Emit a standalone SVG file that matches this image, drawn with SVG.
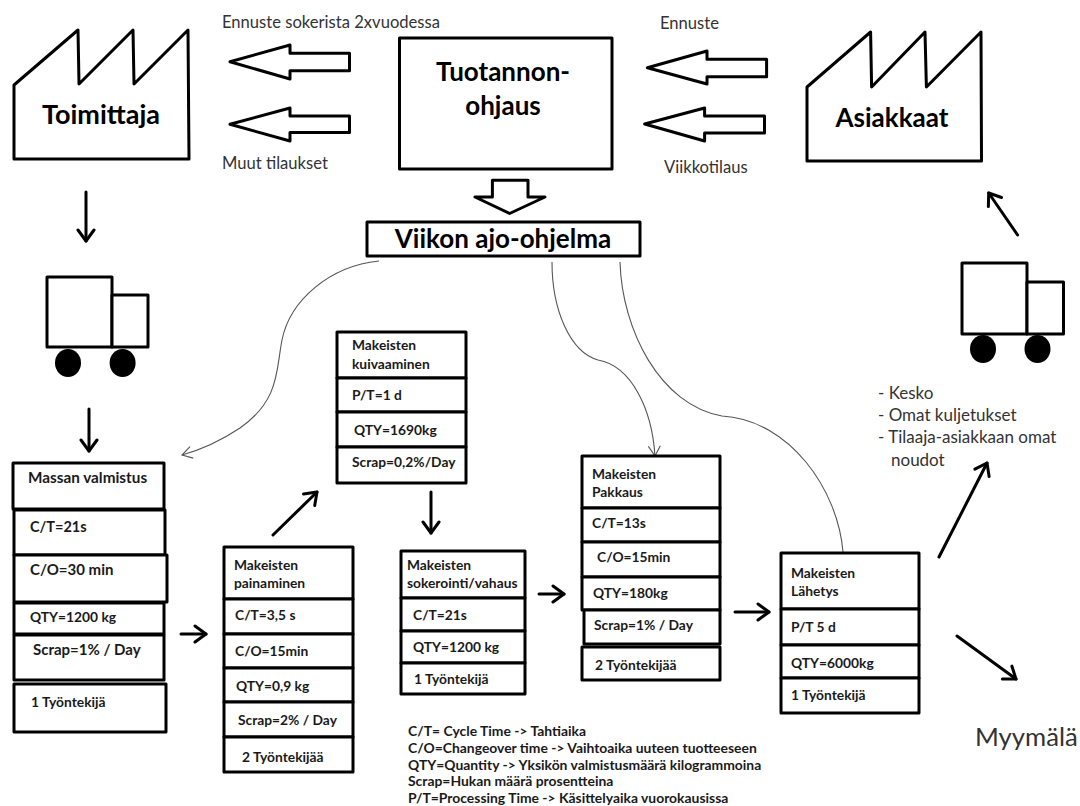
<svg xmlns="http://www.w3.org/2000/svg" width="1080" height="806" viewBox="0 0 1080 806">
<style>
text{font-family:Lato,"Liberation Sans",sans-serif;fill:#111}
.s{fill:#fff;stroke:#000;stroke-width:3;stroke-linejoin:round}
.t{font-size:13.8px;font-weight:700;fill:#1a1a1a}
.g{font-size:13.9px;font-weight:700;fill:#1a1a1a}
.b{font-size:26px;font-weight:700;fill:#000}
.l{font-size:16.6px;fill:#333}
.k{font-size:17px;fill:#333}
.m{font-size:25.7px;fill:#333}
.a{fill:none;stroke:#000;stroke-width:3;stroke-linecap:round;stroke-linejoin:round;marker-end:url(#h)}
.c{fill:none;stroke:#555;stroke-width:1.1}
</style>
<defs>
<marker id="h" markerUnits="userSpaceOnUse" markerWidth="24" markerHeight="24" refX="13" refY="10" orient="auto"><path d="M2,2 L13,10 L2,18" fill="none" stroke="#000" stroke-width="3" stroke-linecap="round" stroke-linejoin="round"/></marker>
<marker id="o" markerUnits="userSpaceOnUse" markerWidth="20" markerHeight="20" refX="12" refY="8" orient="auto"><path d="M2,2 L12,8 L2,14" fill="none" stroke="#555" stroke-width="1.1"/></marker>
</defs>
<g id="connectors">
<path class="s" d="M230,61.7 290,45 290,53.3 349.5,53.3 349.5,70.7 290,70.7 290,79Z"/>
<path class="s" d="M230,124.3 290,108 290,116 349.5,116 349.5,132.5 290,132.5 290,141Z"/>
<path class="s" d="M647.4,67.7 707,51 707,59.3 766.6,59.3 766.6,76.7 707,76.7 707,84Z"/>
<path class="s" d="M644.7,124 704.6,108 704.6,116 764.5,116 764.5,133 704.6,133 704.6,141Z"/>
<path class="s" d="M492.4,180.300 528,180.300 528,197 545,197 509.6,213.5 475,197 492.4,197Z"/>
<path class="a" d="M86,192V241"/>
<path class="a" d="M89,409V451"/>
<path class="a" d="M273,535 317,492"/>
<path class="a" d="M181,634H206"/>
<path class="a" d="M431,492V533"/>
<path class="a" d="M539,594H564"/>
<path class="a" d="M735,612H769"/>
<path class="a" d="M939,557 987,463"/>
<path class="a" d="M957,636 1016,679"/>
<path class="a" d="M1017.6,235 988.7,193"/>
<path class="c" marker-end="url(#o)" d="M379,261C330,266 290,300 282,340C276,370 280,400 240,428C222,440 200,450 182,455"/>
<path class="c" marker-end="url(#o)" d="M552,262C552,310 570,352 598,360C632,366 652,410 655,456"/>
<path class="c" d="M620,262C622,330 660,405 722,416C790,420 838,490 843,552"/>
</g>
<g id="toimittaja"><path class="s" d="M14,85 78,30 79,84 133,30 134,84 188,30 189,159 14,159Z"/><text class="b" style="font-size:27px" x="101" y="124" text-anchor="middle">Toimittaja</text></g>
<g id="asiakkaat"><path class="s" d="M807,87 870.6,32 871.6,87 925,32 926.4,87 981,32 981.5,161 807,161Z"/><text class="b" x="892" y="127" text-anchor="middle">Asiakkaat</text></g>
<g id="tuotannonohjaus"><rect class="s" x="399.5" y="38" width="212.5" height="131"/><text class="b" x="503" y="81" text-anchor="middle">Tuotannon-</text><text class="b" x="503" y="115" text-anchor="middle">ohjaus</text></g>
<g id="viikon"><rect class="s" x="367" y="222" width="273" height="34"/><text class="b" x="503" y="248" text-anchor="middle">Viikon ajo-ohjelma</text></g>
<g id="truck-left"><rect class="s" x="47" y="277" width="65" height="70"/><rect class="s" x="112" y="295" width="36" height="52"/><ellipse cx="68" cy="363" rx="13" ry="14"/><ellipse cx="122.6" cy="363" rx="13" ry="14"/></g>
<g id="truck-right"><rect class="s" x="962" y="263" width="65" height="71"/><rect class="s" x="1027" y="282" width="36.500" height="52"/><ellipse cx="983" cy="349" rx="13" ry="14"/><ellipse cx="1037.500" cy="349" rx="13" ry="14"/></g>
<g id="massan">
<rect class="s" x="13" y="463" width="151" height="46"/><rect class="s" x="14" y="510" width="151" height="45"/><rect class="s" x="14" y="555" width="153" height="47"/><rect class="s" x="14" y="603" width="150" height="31"/><rect class="s" x="14" y="635" width="150" height="45"/><rect class="s" x="14" y="684" width="152" height="48"/>
<text class="t" style="font-size:15.3px" x="28" y="483">Massan valmistus</text><text class="t" style="font-size:14.5px" x="30" y="532">C/T=21s</text><text class="t" style="font-size:15px" x="30" y="575">C/O=30 min</text><text class="t" x="30" y="622">QTY=1200 kg</text><text class="t" style="font-size:15px" x="33" y="655">Scrap=1% / Day</text><text class="t" x="31" y="707">1 Työntekijä</text>
</g>
<g id="painaminen">
<rect class="s" x="224" y="547" width="129" height="52"/><rect class="s" x="224" y="599" width="129" height="35"/><rect class="s" x="224" y="634" width="129" height="34"/><rect class="s" x="224" y="668" width="129" height="34"/><rect class="s" x="224" y="702" width="129" height="35"/><rect class="s" x="224" y="737" width="129" height="35"/>
<text class="t" x="234" y="570">Makeisten</text><text class="t" x="234" y="588">painaminen</text><text class="t" x="235" y="620">C/T=3,5 s</text><text class="t" x="235" y="656">C/O=15min</text><text class="t" x="236" y="691">QTY=0,9 kg</text><text class="t" x="238" y="725">Scrap=2% / Day</text><text class="t" x="242" y="762">2 Työntekijää</text>
</g>
<g id="kuivaaminen">
<rect class="s" x="337" y="332" width="129" height="46"/><rect class="s" x="337" y="378" width="129" height="34"/><rect class="s" x="337" y="412" width="129" height="35"/><rect class="s" x="337" y="447" width="129" height="36"/>
<text class="t" x="352" y="350">Makeisten</text><text class="t" x="352" y="369">kuivaaminen</text><text class="t" x="352" y="400">P/T=1 d</text><text class="t" x="354" y="435">QTY=1690kg</text><text class="t" x="352" y="467">Scrap=0,2%/Day</text>
</g>
<g id="sokerointi">
<rect class="s" x="401" y="551" width="124" height="47"/><rect class="s" x="401" y="598" width="124" height="33"/><rect class="s" x="401" y="631" width="124" height="32"/><rect class="s" x="401" y="663" width="124" height="31"/>
<text class="t" x="407" y="570">Makeisten</text><text class="t" x="407" y="588">sokerointi/vahaus</text><text class="t" x="413" y="620">C/T=21s</text><text class="t" x="413" y="652">QTY=1200 kg</text><text class="t" x="414" y="684">1 Työntekijä</text>
</g>
<g id="pakkaus">
<rect class="s" x="582" y="456" width="138" height="52"/><rect class="s" x="582" y="508" width="138" height="34"/><rect class="s" x="582" y="542" width="138" height="35"/><rect class="s" x="582" y="577" width="138" height="33"/><rect class="s" x="584" y="610" width="136" height="34"/><rect class="s" x="582" y="647" width="138" height="33"/>
<text class="t" x="592" y="479">Makeisten</text><text class="t" x="592" y="497">Pakkaus</text><text class="t" x="592" y="528">C/T=13s</text><text class="t" x="597" y="562">C/O=15min</text><text class="t" x="593" y="598">QTY=180kg</text><text class="t" x="594" y="630">Scrap=1% / Day</text><text class="t" x="595" y="670">2 Työntekijää</text>
</g>
<g id="lahetys">
<rect class="s" x="781" y="553" width="138" height="56"/><rect class="s" x="781" y="609" width="138" height="36"/><rect class="s" x="781" y="645" width="138" height="33"/><rect class="s" x="781" y="678" width="138" height="35"/>
<text class="t" x="791" y="578">Makeisten</text><text class="t" x="791" y="596">Lähetys</text><text class="t" x="791" y="632">P/T 5 d</text><text class="t" x="791" y="668">QTY=6000kg</text><text class="t" x="791" y="700">1 Työntekijä</text>
</g>
<g id="labels">
<text class="l" x="222" y="28">Ennuste sokerista 2xvuodessa</text>
<text class="l" x="222" y="169">Muut tilaukset</text>
<text class="l" x="660" y="29">Ennuste</text>
<text class="l" x="664" y="173">Viikkotilaus</text>
<text class="k" x="878" y="399">- Kesko</text>
<text class="k" x="878" y="421">- Omat kuljetukset</text>
<text class="k" x="878" y="443">- Tilaaja-asiakkaan omat</text>
<text class="k" x="891" y="466">noudot</text>
<text class="m" x="975" y="746">Myymälä</text>
<text class="g" x="408" y="736">C/T= Cycle Time -&gt; Tahtiaika</text>
<text class="g" x="408" y="753">C/O=Changeover time -&gt; Vaihtoaika uuteen tuotteeseen</text>
<text class="g" x="408" y="770">QTY=Quantity -&gt; Yksikön valmistusmäärä kilogrammoina</text>
<text class="g" x="408" y="786">Scrap=Hukan määrä prosentteina</text>
<text class="g" x="408" y="803">P/T=Processing Time -&gt; Käsittelyaika vuorokausissa</text>
</g>
</svg>
